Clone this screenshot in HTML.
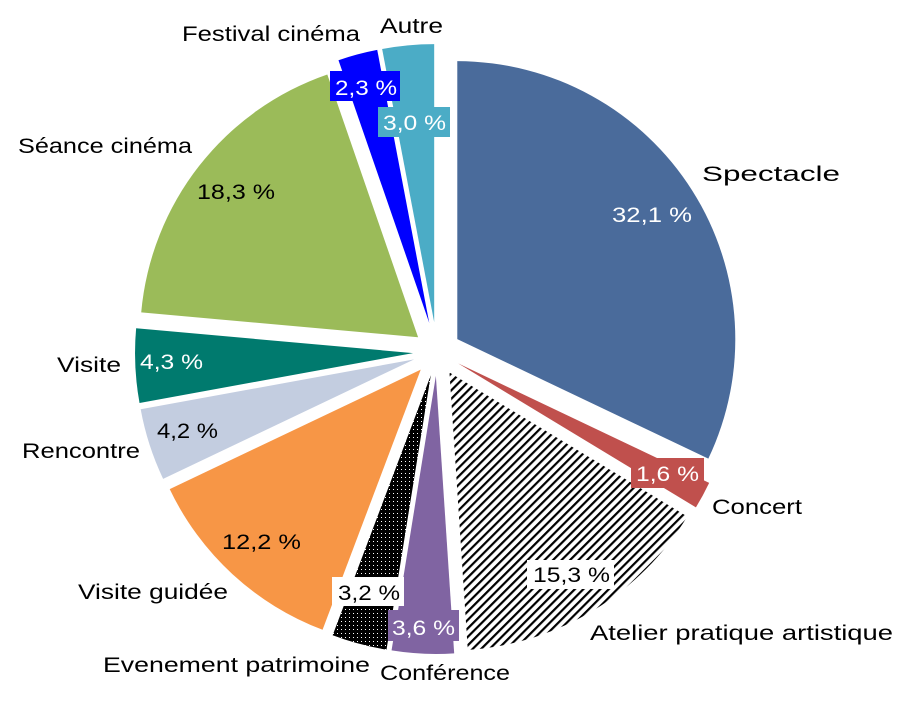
<!DOCTYPE html>
<html><head><meta charset="utf-8"><style>
html,body{margin:0;padding:0;background:#fff}
svg{display:block}
text{font-family:"Liberation Sans",sans-serif;font-size:21px}
</style></head><body>
<svg id="s" width="913" height="706" viewBox="0 0 913 706" xmlns="http://www.w3.org/2000/svg">
<defs>
<pattern id="hatch" width="6" height="6" patternUnits="userSpaceOnUse" patternTransform="rotate(45)">
<rect width="6" height="6" fill="#fff"/><rect width="2.2" height="6" fill="#000"/>
</pattern>
<pattern id="dots" width="4" height="4" patternUnits="userSpaceOnUse">
<rect width="4" height="4" fill="#000"/><rect x="1" y="1" width="1" height="1" fill="#fff"/>
</pattern>
</defs>
<g id="slices"></g>
<g>
<text x="702" y="181" textLength="138" lengthAdjust="spacingAndGlyphs">Spectacle</text>
<text x="612" y="222" fill="#fff" textLength="80" lengthAdjust="spacingAndGlyphs">32,1 %</text>
<rect x="631" y="458" width="73" height="30" fill="#c0504d"/>
<text x="636" y="481" fill="#fff" textLength="63" lengthAdjust="spacingAndGlyphs">1,6 %</text>
<text x="712" y="514" textLength="90" lengthAdjust="spacingAndGlyphs">Concert</text>
<rect x="527" y="560" width="87" height="29" fill="#fff"/>
<text x="533" y="582" textLength="77" lengthAdjust="spacingAndGlyphs">15,3 %</text>
<text x="590" y="640" textLength="303" lengthAdjust="spacingAndGlyphs">Atelier pratique artistique</text>
<rect x="388" y="610" width="71" height="31" fill="#8064a2"/>
<text x="392" y="635" fill="#fff" textLength="63" lengthAdjust="spacingAndGlyphs">3,6 %</text>
<text x="380" y="680" textLength="130" lengthAdjust="spacingAndGlyphs">Conférence</text>
<rect x="332" y="577" width="72" height="29" fill="#fff"/>
<text x="338" y="600" textLength="62" lengthAdjust="spacingAndGlyphs">3,2 %</text>
<text x="103" y="672" textLength="267" lengthAdjust="spacingAndGlyphs">Evenement patrimoine</text>
<text x="222" y="549" textLength="79" lengthAdjust="spacingAndGlyphs">12,2 %</text>
<text x="78" y="599" textLength="150" lengthAdjust="spacingAndGlyphs">Visite guidée</text>
<text x="157" y="438" textLength="61" lengthAdjust="spacingAndGlyphs">4,2 %</text>
<text x="22" y="458" textLength="118" lengthAdjust="spacingAndGlyphs">Rencontre</text>
<text x="140" y="369" fill="#fff" textLength="63" lengthAdjust="spacingAndGlyphs">4,3 %</text>
<text x="57" y="372" textLength="64" lengthAdjust="spacingAndGlyphs">Visite</text>
<text x="197" y="199" textLength="78" lengthAdjust="spacingAndGlyphs">18,3 %</text>
<text x="18" y="153" textLength="174" lengthAdjust="spacingAndGlyphs">Séance cinéma</text>
<rect x="330" y="71" width="70" height="30" fill="#0000ff"/>
<text x="335" y="95" fill="#fff" textLength="62" lengthAdjust="spacingAndGlyphs">2,3 %</text>
<text x="182" y="41" textLength="178" lengthAdjust="spacingAndGlyphs">Festival cinéma</text>
<rect x="378" y="107" width="72" height="30" fill="#4bacc6"/>
<text x="383" y="130" fill="#fff" textLength="63" lengthAdjust="spacingAndGlyphs">3,0 %</text>
<text x="380" y="33" textLength="63" lengthAdjust="spacingAndGlyphs">Autre</text>
</g>
</svg>
<script>
var data=[[32.1,"#4a6b9b",24],[1.6,"#c0504d",24],[15.3,"url(#hatch)",24],[3.6,"#8064a2",24],[3.2,"url(#dots)",24],[12.2,"#f79646",24],[4.2,"#c3cde0",24],[4.3,"#007a6e",24],[18.3,"#9bbb59",24],[2.3,"#0000ff",30],[3.0,"#4bacc6",30]];
var tot=0;data.forEach(function(d){tot+=d[0]});
var cx=437,cy=352,r=278,acc=0,g=document.getElementById("slices"),h="";
function P(x,y,a,rr){return [x+rr*Math.sin(a),y-rr*Math.cos(a)];}
data.forEach(function(s){
 var d=s[2];
 var a0=acc/tot*2*Math.PI;acc+=s[0];var a1=acc/tot*2*Math.PI;var m=(a0+a1)/2;
 var v=P(cx,cy,m,d);var p0=P(v[0],v[1],a0,r),p1=P(v[0],v[1],a1,r);
 var large=(a1-a0)>Math.PI?1:0;
 h+='<path d="M'+v[0]+' '+v[1]+' L'+p0[0]+' '+p0[1]+' A'+r+' '+r+' 0 '+large+' 1 '+p1[0]+' '+p1[1]+' Z" fill="'+s[1]+'"/>';
});
g.innerHTML=h;
</script>
</body></html>
